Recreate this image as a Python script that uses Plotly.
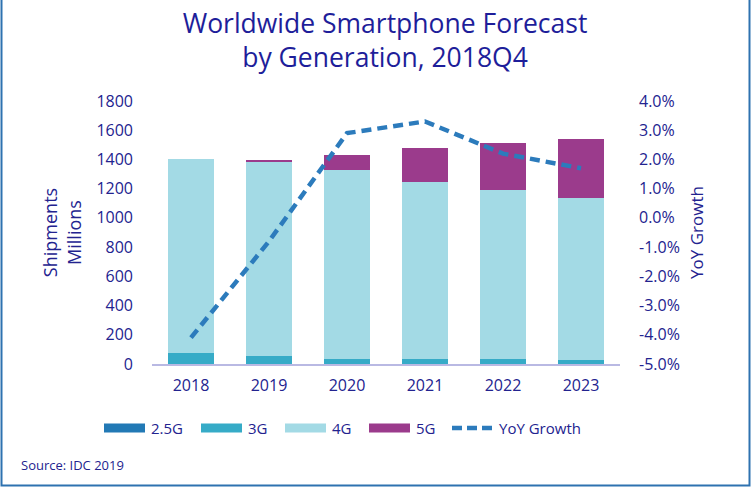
import plotly.graph_objects as go

years = ["2018", "2019", "2020", "2021", "2022", "2023"]
g25 = [2, 1, 1, 0.5, 0.5, 0.3]
g3 = [70, 52, 36, 31, 34, 25]
g4 = [1333, 1334, 1288, 1214, 1154, 1108]
g5 = [0, 6, 103, 230, 327, 407]
yoy = [-4.1, -0.8, 2.9, 3.3, 2.2, 1.7]

series_names = ["2.5G", "3G", "4G", "5G", "YoY Growth"]
left_ticks = [0, 200, 400, 600, 800, 1000, 1200, 1400, 1600, 1800]
right_ticks = [-5, -4, -3, -2, -1, 0, 1, 2, 3, 4]
right_labels = [f"{v:.1f}%" for v in right_ticks]

colors = {"2.5G": "#2279B5", "3G": "#36ABC7", "4G": "#A3DAE5", "5G": "#9B3B8C",
          "YoY Growth": "#2C7BBC"}
navy = "#23238F"
font = "Open Sans"

fig = go.Figure()
for name, vals in zip(series_names[:4], [g25, g3, g4, g5]):
    fig.add_bar(x=years, y=vals, name=name, marker_color=colors[name],
                marker_line_width=0, showlegend=False)
fig.add_scatter(x=years, y=yoy, name="YoY Growth", yaxis="y2", mode="lines",
                line=dict(color=colors["YoY Growth"], width=4.5, dash="10px,6px"),
                showlegend=False)

W, H = 752, 487
L, R, T, B = 152, 132, 101, 123
pw, ph = W - L - R, H - T - B


def px(x):
    return (x - L) / pw


def py(y):
    return (H - B - y) / ph


fig.update_layout(
    width=W, height=H,
    margin=dict(l=L, r=R, t=T, b=B, autoexpand=False),
    paper_bgcolor="white", plot_bgcolor="white",
    barmode="stack", bargap=0.42,
    font=dict(family=font, color=navy, size=16),
    title=dict(text="Worldwide Smartphone Forecast<br>by Generation, 2018Q4",
               x=0.512, xanchor="center", y=1 - 33 / H, yanchor="top",
               font=dict(size=26.5, color="#1E1E9A", family=font)),
    xaxis=dict(showgrid=False, showline=True, linecolor="#B9B9E3", linewidth=1.5,
               tickfont=dict(size=16, color=navy), ticks="", ticklabelstandoff=6),
    yaxis=dict(range=[0, 1800], tickvals=left_ticks, showgrid=False, zeroline=False,
               tickfont=dict(size=16, color=navy), ticklabelstandoff=18,
               title=dict(text="Shipments<br>Millions", font=dict(size=18, color=navy),
                          standoff=10)),
    yaxis2=dict(range=[-5, 4], overlaying="y", side="right", tickvals=right_ticks,
                ticktext=right_labels, showgrid=False, zeroline=False,
                tickfont=dict(size=16, color=navy), ticklabelstandoff=18,
                title=dict(text="YoY Growth", font=dict(size=17, color=navy), standoff=12)),
    showlegend=False,
)

# custom legend (wide swatches as in the reference)
legend_x = [104, 201, 285, 369, 452]
legend_y = 428
for name, lx in zip(series_names, legend_x):
    if name == "YoY Growth":
        fig.add_shape(type="line", xref="paper", yref="paper",
                      x0=px(lx), x1=px(lx + 42), y0=py(legend_y), y1=py(legend_y),
                      line=dict(color=colors[name], width=4.5, dash="10px,5px"))
    else:
        fig.add_shape(type="rect", xref="paper", yref="paper",
                      x0=px(lx), x1=px(lx + 41), y0=py(legend_y - 4.5), y1=py(legend_y + 4.5),
                      line=dict(width=0), fillcolor=colors[name])
    fig.add_annotation(text=name, xref="paper", yref="paper",
                       x=px(lx + 45), y=py(legend_y), xanchor="left", yanchor="middle",
                       showarrow=False, font=dict(size=15, color=navy))

fig.add_annotation(text="Source: IDC 2019", xref="paper", yref="paper",
                   x=px(19), y=py(465), xanchor="left", yanchor="middle",
                   showarrow=False, font=dict(size=13, color=navy))

fig.add_shape(type="rect", xref="paper", yref="paper",
              x0=px(1.5), x1=px(749.5), y0=py(485.5), y1=py(-20),
              line=dict(color="#2E72B0", width=2), fillcolor="rgba(0,0,0,0)", layer="below")

fig.write_html("out.html", config={"displayModeBar": False},
               post_script="document.body.style.margin='0';")
